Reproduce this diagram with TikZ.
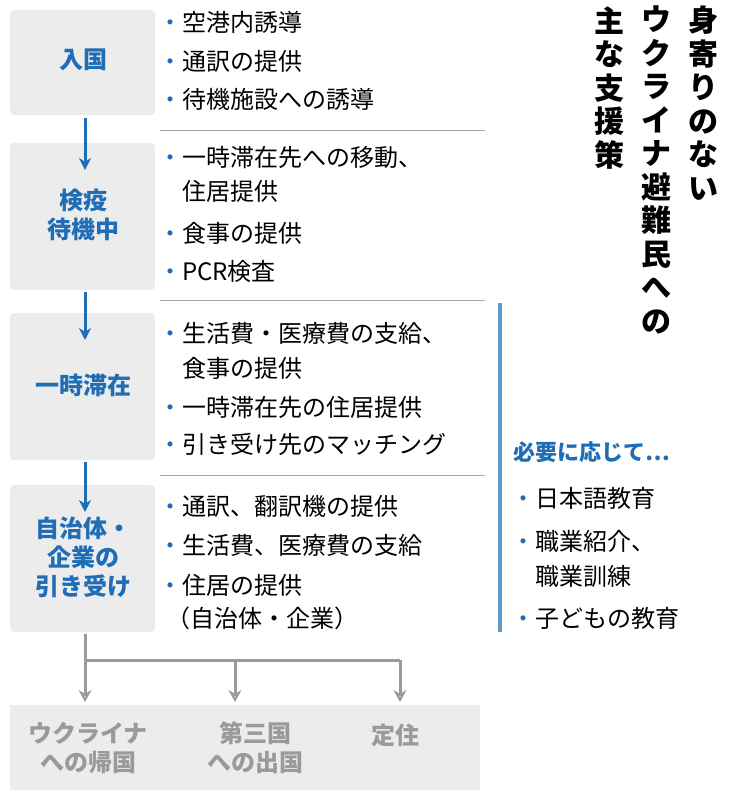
\documentclass[tikz,border=0pt]{standalone}
\usepackage{fontspec}
\setmainfont{Noto Sans CJK JP}
\usetikzlibrary{arrows.meta}
\definecolor{dblue}{HTML}{1F6DB5}
\definecolor{boxgray}{HTML}{ECECEC}
\definecolor{treegray}{HTML}{9A9A9A}
\tikzset{
  stagebox/.style={fill=boxgray, rounded corners=4pt},
  stagetext/.style={font=\fontsize{24}{29}\selectfont\bfseries, text=dblue, align=center},
  item/.style={font=\fontsize{24}{28}\selectfont, anchor=west, inner sep=0pt},
  sepline/.style={draw=black!35, line width=1pt},
  flow/.style={-{Stealth[length=12pt,width=12pt]}, line width=3pt, draw=dblue},
  outflow/.style={-{Stealth[length=12pt,width=13pt,open]}, line width=3pt, draw=treegray},
  vtitle/.style={font=\fontsize{30}{33.5}\selectfont\bfseries, align=center, anchor=north, inner sep=0pt}
}
\newcommand{\bul}{\textcolor{dblue}{・}}
\begin{document}
\begin{tikzpicture}[x=1pt,y=-1pt]
\useasboundingbox (0,0) rectangle (732,800);
% stage boxes
\fill[stagebox] (10,10) rectangle (155,115);
\fill[stagebox] (10,143) rectangle (155,290);
\fill[stagebox] (10,313) rectangle (155,460);
\fill[stagebox] (10,485) rectangle (155,632);
\node[stagetext] (entry) at (83,60) {入国};
\node[stagetext] (quar) at (83,215) {検疫\\待機中};
\node[stagetext] (stay) at (83,385) {一時滞在};
\node[stagetext] (local) at (83,557) {自治体・\\企業の\\引き受け};
\coordinate (b1) at (85,118); \coordinate (t2) at (85,170);
\coordinate (b2) at (85,292); \coordinate (t3) at (85,340);
\coordinate (b3) at (85,462); \coordinate (t4) at (85,512);
\draw[flow] (b1) -- (t2);
\draw[flow] (b2) -- (t3);
\draw[flow] (b3) -- (t4);

% items
\node[item] (e1) at (158,22) {\bul 空港内誘導};
\node[item] (e2) at (158,61) {\bul 通訳の提供};
\node[item] (e3) at (158,99) {\bul 待機施設への誘導};
\draw[sepline] (160,130) -- (485,130);
\node[item] (q1) at (158,158) {\bul 一時滞在先への移動、};
\node[item] (q2) at (182,191) {住居提供};
\node[item] (q3) at (158,233) {\bul 食事の提供};
\node[item] (q4) at (158,271) {\bul PCR検査};
\draw[sepline] (160,300) -- (485,300);
\node[item] (s1) at (158,333) {\bul 生活費・医療費の支給、};
\node[item] (s2) at (182,368) {食事の提供};
\node[item] (s3) at (158,408) {\bul 一時滞在先の住居提供};
\node[item] (s4) at (158,444) {\bul 引き受け先のマッチング};
\draw[sepline] (160,475) -- (485,475);
\node[item] (l1) at (158,506) {\bul 通訳、翻訳機の提供};
\node[item] (l2) at (158,545) {\bul 生活費、医療費の支給};
\node[item] (l3) at (158,585) {\bul 住居の提供};
\node[item] (l4) at (166,618) {（自治体・企業）};

% as needed
\draw[draw=dblue!70, line width=4pt] (500,303) -- (500,632);
\node[item, font=\fontsize{22}{26}\selectfont\bfseries, text=dblue] (need) at (513,452) {必要に応じて…};
\node[item] (n1) at (511,498) {\bul 日本語教育};
\node[item] (n2) at (511,541) {\bul 職業紹介、};
\node[item] (n3) at (535,576) {職業訓練};
\node[item] (n4) at (511,618) {\bul 子どもの教育};

% title
\node[vtitle] (t1) at (703,6) {身\\寄\\り\\の\\な\\い};
\node[vtitle] (t2) at (656,6) {ウ\\ク\\ラ\\イ\\ナ\\避\\難\\民\\へ\\の};
\node[vtitle] (t3) at (609,6) {主\\な\\支\\援\\策};

% outcomes
\fill[boxgray] (10,705) rectangle (480,790);
\coordinate (b4) at (85,634);
\coordinate (fork) at (85,660);
\coordinate (forkr) at (400,660);
\draw[treegray, line width=3pt] (b4) -- (fork) -- (forkr);
\draw[outflow] (fork) -- (85,702);
\draw[outflow] (235,660) -- (235,702);
\draw[outflow] (forkr) -- (400,702);
\node[stagetext, text=treegray] (home) at (88,748) {ウクライナ\\への帰国};
\node[stagetext, text=treegray] (third) at (255,748) {第三国\\への出国};
\node[stagetext, text=treegray] (settle) at (395,735) {定住};
\end{tikzpicture}
\end{document}
